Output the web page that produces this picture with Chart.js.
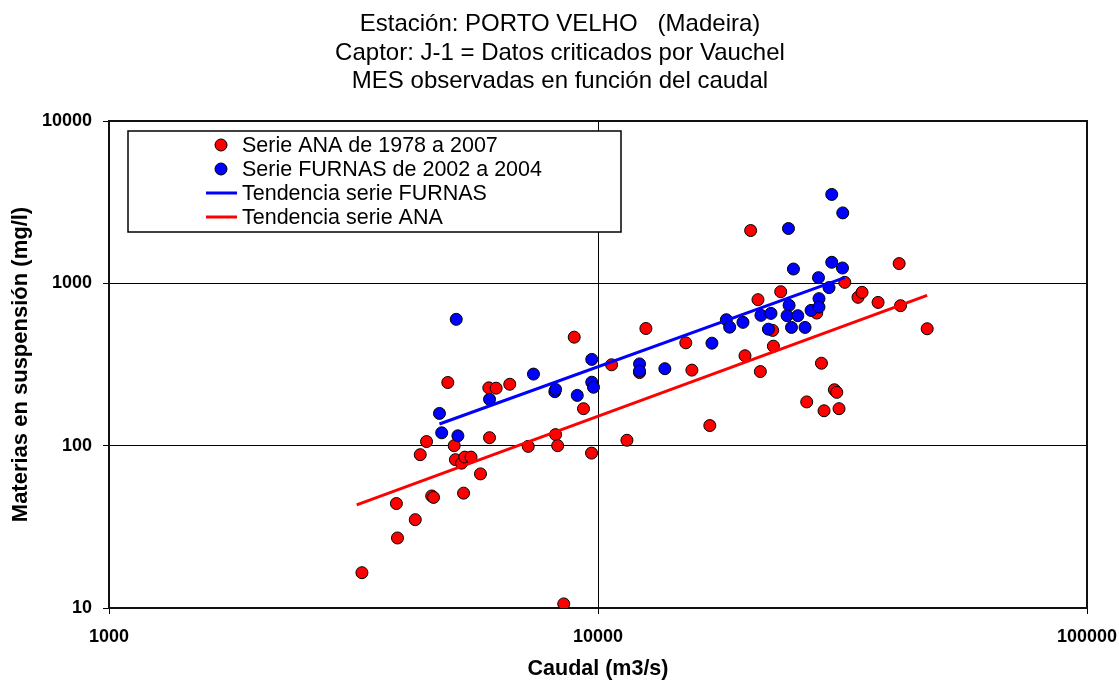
<!DOCTYPE html>
<html>
<head>
<meta charset="utf-8">
<script src="https://cdn.jsdelivr.net/npm/chart.js@4/dist/chart.umd.min.js"></script>
<style>
  html, body { margin: 0; padding: 0; background: #fff; }
  canvas { display: block; }
</style>
</head>
<body>
<canvas id="c" width="1119" height="680"></canvas>
<script>
// Chart titles
const titleLines = [
  'Estación: PORTO VELHO   (Madeira)',
  'Captor: J-1 = Datos criticados por Vauchel',
  'MES observadas en función del caudal'
];

// Series ANA 1978-2007: discharge (m3/s) and suspended matter (mg/l)
const anaCaudal = [3290, 8510, 3890, 3870, 4230, 4330, 4460, 4570, 4610, 4930,
  5080, 5110, 5260, 5340, 5500, 5310, 5750, 5980, 6190, 6000,
  6600, 7200, 8190, 8270, 8940, 9340, 9700, 10660, 11460, 12160,
  12530, 15120, 15560, 16930, 19980, 20520, 21240, 21480, 22840, 22760,
  23640, 26720, 28010, 28640, 28990, 30440, 30780, 31110, 31960, 34020,
  34670, 37390, 41290, 41560, 47120];
const anaMES = [16.5, 10.6, 27, 44, 35, 88, 106, 49, 48, 245,
  100, 82, 78, 85, 85, 51, 67, 227, 226, 112,
  239, 99, 117, 100, 466, 169, 90, 315, 108, 282,
  527, 430, 292, 133, 358, 2115, 793, 286, 410, 513,
  888, 186, 656, 322, 164, 221, 213, 169, 1014, 820,
  880, 763, 1323, 728, 525];

// Series FURNAS 2002-2004
const furnasCaudal = [5130, 4740, 4790, 5170, 6000, 7380, 8160, 8190, 9070, 9710,
  9710, 9790, 12160, 12160, 13700, 17100, 18300, 18590, 19790, 21540,
  22580, 22310, 24520, 24590, 24360, 25620, 24870, 26510, 25100, 27270,
  28310, 28310, 28240, 29680, 30060, 31620, 30060, 31660];
const furnasMES = [600, 158, 120, 115, 193, 276, 215, 222, 204, 340,
  246, 229, 319, 288, 298, 428, 597, 537, 575, 635,
  653, 522, 2176, 732, 632, 632, 535, 535, 1225, 681,
  805, 714, 1084, 941, 1348, 1243, 3528, 2716];

// Trend lines (end points)
const tendFurnasCaudal = [4740, 31960];
const tendFurnasMES = [136, 1084];
const tendAnaCaudal = [3210, 47100];
const tendAnaMES = [43.2, 843];

// Axis ticks
const xTicks = [1000, 10000, 100000];
const yTicks = [10, 100, 1000, 10000];

const FONT = '"Liberation Sans", Arial, sans-serif';
const RED = '#ff0000';
const BLUE = '#0000ff';

const pts = (xs, ys) => xs.map((x, i) => ({ x: x, y: ys[i] }));

// Frame around the plot area, drawn beneath the markers
const framePlugin = {
  id: 'frame',
  beforeDatasetsDraw(chart) {
    const { ctx, chartArea: a } = chart;
    ctx.save();
    ctx.strokeStyle = '#111';
    ctx.lineWidth = 2;
    ctx.strokeRect(a.left, a.top, a.right - a.left, a.bottom - a.top);
    ctx.restore();
  }
};

// Three-line heading
const headingPlugin = {
  id: 'heading',
  afterDraw(chart) {
    const ctx = chart.ctx;
    ctx.save();
    ctx.fillStyle = '#000';
    ctx.font = '24px ' + FONT;
    ctx.textAlign = 'center';
    ctx.textBaseline = 'middle';
    const ys = [24.5, 53, 81.5];
    titleLines.forEach((t, i) => ctx.fillText(t, 560, ys[i]));
    ctx.restore();
  }
};

// Boxed legend inside the plot area
const legendBoxPlugin = {
  id: 'legendBox',
  afterDraw(chart) {
    const ctx = chart.ctx;
    const ds = chart.data.datasets;
    ctx.save();
    ctx.fillStyle = '#fff';
    ctx.fillRect(128, 131, 493, 101);
    ctx.strokeStyle = '#000';
    ctx.lineWidth = 1.5;
    ctx.strokeRect(128, 131, 493, 101);
    const rows = [145, 169, 193, 217];
    ds.forEach((d, i) => {
      const y = rows[i];
      if (d.showLine) {
        ctx.strokeStyle = d.borderColor;
        ctx.lineWidth = 3;
        ctx.beginPath();
        ctx.moveTo(206, y);
        ctx.lineTo(237, y);
        ctx.stroke();
      } else {
        ctx.fillStyle = d.backgroundColor;
        ctx.strokeStyle = '#000';
        ctx.lineWidth = 1;
        ctx.beginPath();
        ctx.arc(221, y, 6, 0, Math.PI * 2);
        ctx.fill();
        ctx.stroke();
      }
      ctx.fillStyle = '#000';
      ctx.font = '21.5px ' + FONT;
      ctx.textAlign = 'left';
      ctx.textBaseline = 'middle';
      ctx.fillText(d.label, 242, y + 1);
    });
    ctx.restore();
  }
};

new Chart(document.getElementById('c'), {
  type: 'scatter',
  data: {
    datasets: [
      {
        label: 'Serie ANA de 1978 a 2007',
        data: pts(anaCaudal, anaMES),
        backgroundColor: RED, borderColor: '#000', borderWidth: 1,
        pointRadius: 6, showLine: false, order: 4
      },
      {
        label: 'Serie FURNAS de 2002 a 2004',
        data: pts(furnasCaudal, furnasMES),
        backgroundColor: BLUE, borderColor: '#000', borderWidth: 1,
        pointRadius: 6, showLine: false, order: 3
      },
      {
        label: 'Tendencia serie FURNAS',
        data: pts(tendFurnasCaudal, tendFurnasMES),
        showLine: true, borderColor: BLUE, backgroundColor: BLUE,
        borderWidth: 3, pointRadius: 0, order: 2
      },
      {
        label: 'Tendencia serie ANA',
        data: pts(tendAnaCaudal, tendAnaMES),
        showLine: true, borderColor: RED, backgroundColor: RED,
        borderWidth: 3, pointRadius: 0, order: 1
      }
    ]
  },
  options: {
    responsive: false,
    animation: false,
    layout: { padding: { top: 121, right: 32, left: 0, bottom: 0 } },
    plugins: {
      legend: { display: false },
      title: { display: false },
      tooltip: { enabled: false }
    },
    scales: {
      x: {
        type: 'logarithmic',
        position: 'bottom',
        min: 1000, max: 100000,
        afterBuildTicks: s => { s.ticks = xTicks.map(v => ({ value: v })); },
        afterFit: s => { s.height = 72; s.paddingLeft = 0; s.paddingRight = 0; },
        ticks: {
          callback: v => String(v),
          font: { family: FONT, size: 18, weight: 'bold' },
          color: '#000', padding: 12, maxRotation: 0, autoSkip: false
        },
        grid: { color: '#000', lineWidth: 1, tickLength: 6, drawTicks: true },
        border: { display: false },
        title: {
          display: true, text: 'Caudal (m3/s)', color: '#000',
          font: { family: FONT, size: 21.5, weight: 'bold', lineHeight: 1 },
          padding: { top: 0, bottom: 0 }
        }
      },
      y: {
        type: 'logarithmic',
        position: 'left',
        min: 10, max: 10000,
        afterBuildTicks: s => { s.ticks = yTicks.map(v => ({ value: v })); },
        afterFit: s => { s.width = 109; s.paddingTop = 0; s.paddingBottom = 0; },
        ticks: {
          callback: v => String(v),
          font: { family: FONT, size: 18, weight: 'bold' },
          color: '#000', padding: 11, autoSkip: false
        },
        grid: { color: '#000', lineWidth: 1, tickLength: 6, drawTicks: true },
        border: { display: false },
        title: {
          display: true, text: 'Materias en suspensión (mg/l)', color: '#000',
          font: { family: FONT, size: 22, weight: 'bold', lineHeight: 1 },
          padding: { top: 10, bottom: 0 }
        }
      }
    }
  },
  plugins: [framePlugin, headingPlugin, legendBoxPlugin]
});
</script>
</body>
</html>
